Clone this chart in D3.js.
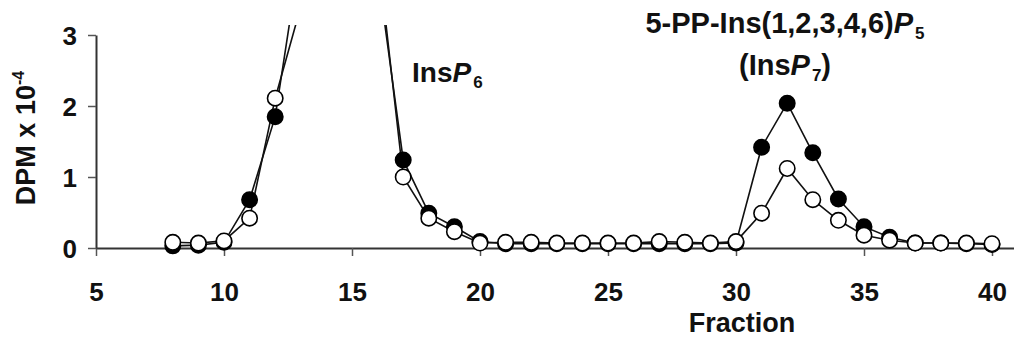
<!DOCTYPE html>
<html>
<head>
<meta charset="utf-8">
<script src="https://d3js.org/d3.v7.min.js"></script>
<style>
  body { margin: 0; background: #fff; }
  svg { display: block; font-family: "Liberation Sans", Arial, sans-serif; font-weight: bold; }
</style>
</head>
<body>
<div id="chart"></div>
<script>
// fractions collected from the column
const fractions = d3.range(8, 41);
// filled circles (DPM x 10^-4); 13-16 run off the top of the plot
const filledDPM = [0.03, 0.04, 0.08, 0.68, 1.85, 4.2, 9, 9, 3.9, 1.24, 0.49, 0.30, 0.09,
  0.06, 0.06, 0.06, 0.06, 0.06, 0.06, 0.06, 0.06, 0.06, 0.07,
  1.42, 2.04, 1.34, 0.69, 0.30, 0.15, 0.07, 0.07, 0.06, 0.05];
// open circles
const openDPM = [0.08, 0.07, 0.10, 0.42, 2.11, 3.4, 9, 9, 4.2, 1.00, 0.42, 0.23, 0.07,
  0.08, 0.08, 0.07, 0.07, 0.07, 0.07, 0.09, 0.08, 0.07, 0.09,
  0.49, 1.12, 0.68, 0.39, 0.18, 0.11, 0.07, 0.07, 0.07, 0.06];
const xTicks = [5, 10, 15, 20, 25, 30, 35, 40];
const yTicks = [0, 1, 2, 3];

const width = 1014, height = 339;
const svg = d3.select('#chart').append('svg')
  .attr('width', width)
  .attr('height', height);

const x = d3.scaleLinear().domain([5, 40.9]).range([96, 96 + 35.9 * 25.6]);
const y = d3.scaleLinear().domain([0, 3]).range([248, 35]);

// axes
const xAxis = svg.append('g')
  .attr('transform', `translate(0,${y(0)})`)
  .call(d3.axisBottom(x).tickValues(xTicks).tickFormat(d3.format('d'))
    .tickSize(8).tickSizeOuter(0).tickPadding(27));
const yAxis = svg.append('g')
  .attr('transform', `translate(${x(5)},0)`)
  .call(d3.axisLeft(y).tickValues(yTicks).tickFormat(d3.format('d'))
    .tickSize(8).tickSizeOuter(0).tickPadding(11));

[xAxis, yAxis].forEach(ax => {
  ax.select('.domain').attr('stroke', '#333').attr('stroke-width', 2);
  ax.selectAll('.tick line').attr('stroke', '#555').attr('stroke-width', 1.5);
  ax.selectAll('.tick text')
    .attr('fill', '#111')
    .style('font-size', '26px')
    .style('font-family', '"Liberation Sans", Arial, sans-serif')
    .style('font-weight', 'bold');
});
yAxis.selectAll('.tick text').attr('dy', '0.36em');

// plot clip (the big peak runs off the top)
svg.append('clipPath').attr('id', 'plotclip')
  .append('rect').attr('x', 0).attr('y', 25).attr('width', width).attr('height', height);

const line = d3.line().x(d => x(d[0])).y(d => y(d[1]));
const filled = fractions.map((f, i) => [f, filledDPM[i]]);
const open = fractions.map((f, i) => [f, openDPM[i]]);

const plot = svg.append('g').attr('clip-path', 'url(#plotclip)');
[filled, open].forEach(s => {
  plot.append('path').datum(s)
    .attr('d', line)
    .attr('fill', 'none')
    .attr('stroke', '#111')
    .attr('stroke-width', 1.6);
});

plot.selectAll('circle.filled').data(filled.filter(d => d[1] < 3.2)).join('circle')
  .attr('class', 'filled')
  .attr('cx', d => x(d[0])).attr('cy', d => y(d[1])).attr('r', 7.7)
  .attr('fill', '#000').attr('stroke', '#000').attr('stroke-width', 1.6);
plot.selectAll('circle.open').data(open.filter(d => d[1] < 3.2)).join('circle')
  .attr('class', 'open')
  .attr('cx', d => x(d[0])).attr('cy', d => y(d[1])).attr('r', 7.7)
  .attr('fill', '#fff').attr('stroke', '#000').attr('stroke-width', 1.6);

// axis titles
svg.append('text')
  .attr('x', 742).attr('y', 332)
  .attr('text-anchor', 'middle')
  .style('font-size', '27px').attr('fill', '#111')
  .text('Fraction');

const yl = svg.append('text')
  .attr('transform', 'translate(35,138) rotate(-90)')
  .attr('text-anchor', 'middle')
  .style('font-size', '27px').attr('fill', '#111');
yl.append('tspan').text('DPM x 10');
yl.append('tspan').attr('dy', -11).style('font-size', '16px').text('-4');

// peak labels
const l6 = svg.append('text').attr('x', 412).attr('y', 82)
  .style('font-size', '28px').attr('fill', '#111');
l6.append('tspan').text('Ins');
l6.append('tspan').style('font-style', 'italic').text('P');
l6.append('tspan').attr('dy', 6).attr('dx', 2).style('font-size', '17px').text('6');

const l7a = svg.append('text').attr('x', 785).attr('y', 33)
  .attr('text-anchor', 'middle')
  .style('font-size', '29px').attr('fill', '#111');
l7a.append('tspan').text('5-PP-Ins(1,2,3,4,6)');
l7a.append('tspan').style('font-style', 'italic').text('P');
l7a.append('tspan').attr('dy', 6).attr('dx', 2).style('font-size', '17px').text('5');

const l7b = svg.append('text').attr('x', 785).attr('y', 75)
  .attr('text-anchor', 'middle')
  .style('font-size', '29px').attr('fill', '#111');
l7b.append('tspan').text('(Ins');
l7b.append('tspan').style('font-style', 'italic').text('P');
l7b.append('tspan').attr('dy', 6).attr('dx', 2).style('font-size', '17px').text('7');
l7b.append('tspan').attr('dy', -6).text(')');
</script>
</body>
</html>
